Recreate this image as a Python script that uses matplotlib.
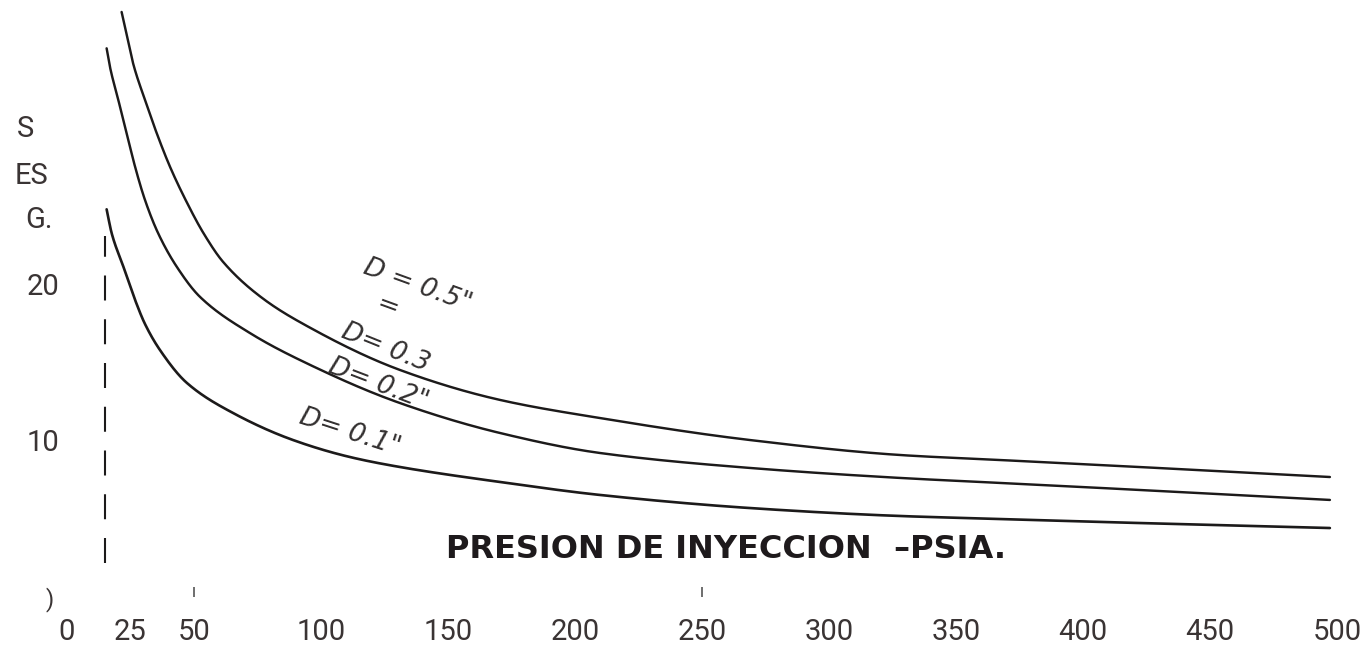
import matplotlib
matplotlib.use("Agg")
import matplotlib.pyplot as plt
import numpy as np

# ---- data ----
x_ticks = [0, 25, 50, 100, 150, 200, 250, 300, 350, 400, 450, 500]
x_tick_labels = ["0", "25", "50", "100", "150", "200", "250", "300", "350", "400", "450", "500"]

# D = 0.5" / 0.3  (upper curve)
p_05 = [21.5, 23.6, 26.1, 30.7, 35.3, 40.6, 47.1, 53.7, 61.5, 76.8, 91.7, 131.1, 170.5, 209.8, 268.9, 328.0, 367.3, 406.7, 497.2]
t_05 = [37.63, 36.09, 34.29, 31.99, 29.87, 27.69, 25.45, 23.46, 21.60, 19.30, 17.75, 14.68, 12.76, 11.60, 10.19, 9.23, 8.91, 8.59, 7.82]

# D = 0.2"  (middle curve)
p_02 = [15.6, 16.9, 20.2, 23.5, 26.8, 30.7, 35.9, 43.2, 52.4, 72.0, 91.7, 131.1, 170.5, 209.8, 268.9, 328.0, 367.3, 406.7, 497.2]
t_02 = [35.30, 34.12, 31.99, 29.85, 27.71, 25.58, 23.44, 21.30, 19.36, 17.05, 15.32, 12.56, 10.64, 9.36, 8.40, 7.76, 7.44, 7.12, 6.35]

# D = 0.1"  (lower curve)
p_01 = [15.6, 17.6, 22.2, 26.8, 30.7, 36.6, 47.2, 65.4, 89.0, 111.4, 131.1, 170.5, 209.8, 268.9, 328.0, 367.3, 406.7, 497.2]
t_01 = [24.98, 23.44, 21.30, 19.17, 17.63, 15.96, 13.85, 11.92, 10.19, 9.10, 8.46, 7.50, 6.67, 5.83, 5.32, 5.13, 4.94, 4.55]

atm_pressure = 15.0
atm_line_top = 23.3
atm_line_bottom = 2.3

y_tick_values = [20, 10]
y_tick_labels = ["20", "10"]

curve_labels = ['D = 0.5"', '=', 'D= 0.3', 'D= 0.2"', 'D= 0.1"']
curve_label_x = [138.0, 126.0, 125.5, 122.5, 111.5]
curve_label_y = [20.1, 18.7, 16.1, 13.75, 10.7]
curve_label_rot = [-20, -20, -22, -21, -18]

ylabel_parts = ["S", "ES", "G."]
ylabel_x = [-16.5, -13.8, -11.0]
ylabel_y = [30.1, 27.1, 24.3]

xlabel_text = "PRESION DE INYECCION  \u2013PSIA."


def pchip_line(x, y):
    """Monotone cubic Hermite curve through the given points (for a smooth pen line)."""
    x = np.asarray(x, float)
    y = np.asarray(y, float)
    h = np.diff(x)
    d = np.diff(y) / h
    m = np.zeros_like(x)
    for k in range(1, len(x) - 1):
        if d[k - 1] * d[k] <= 0:
            m[k] = 0.0
        else:
            w1 = 2 * h[k] + h[k - 1]
            w2 = h[k] + 2 * h[k - 1]
            m[k] = (w1 + w2) / (w1 / d[k - 1] + w2 / d[k])
    m[0] = d[0]
    m[-1] = d[-1]
    xs, ys = [], []
    for k in range(len(x) - 1):
        t = np.linspace(0, 1, 40, endpoint=False)
        h00 = 2 * t**3 - 3 * t**2 + 1
        h10 = t**3 - 2 * t**2 + t
        h01 = -2 * t**3 + 3 * t**2
        h11 = t**3 - t**2
        xs.append(x[k] + t * h[k])
        ys.append(h00 * y[k] + h10 * h[k] * m[k] + h01 * y[k + 1] + h11 * h[k] * m[k + 1])
    xs.append([x[-1]])
    ys.append([y[-1]])
    return np.concatenate(xs), np.concatenate(ys)


# ---- figure ----
W, H = 1366, 650
fig = plt.figure(figsize=(W / 100, H / 100), dpi=100)
fig.patch.set_facecolor("white")
bottom_px = 612
ax = fig.add_axes([0, (H - bottom_px) / H, 1, bottom_px / H])
ax.set_facecolor("white")

px_per_unit_x = 2.54
x0_px = 67
ax.set_xlim(-x0_px / px_per_unit_x, (W - x0_px) / px_per_unit_x)
py_per_unit = 15.6
y0_px = 599
ax.set_ylim((y0_px - bottom_px) / py_per_unit, y0_px / py_per_unit)

for s in ax.spines.values():
    s.set_visible(False)

line_color = "#1c1a1a"
text_color = "#3a3434"
num_font = ["Roboto", "DejaVu Sans"]

for px_, ty_, lw in [(p_05, t_05, 1.75), (p_02, t_02, 1.75), (p_01, t_01, 1.9)]:
    sx, sy = pchip_line(px_, ty_)
    ax.plot(sx, sy, color=line_color, lw=lw, solid_capstyle="round")

dl, = ax.plot([atm_pressure, atm_pressure], [atm_line_bottom, atm_line_top],
              color=line_color, lw=1.5)
dl.set_dashes([12, 9])

# small stray tick marks on the x axis line
ax.plot([50, 250], [0.45, 0.45], linestyle="none", marker="|", markersize=7,
        color="#555555", markeredgewidth=1.2)

ax.set_xticks(x_ticks)
ax.set_xticklabels(x_tick_labels, family=num_font, fontsize=21, color=text_color)
ax.tick_params(axis="x", length=0, pad=4)
ax.set_yticks([])

for v, lab in zip(y_tick_values, y_tick_labels):
    ax.text(-9.5, v, lab, family=num_font, fontsize=21, color=text_color,
            ha="center", va="center")
ax.text(-6.7, -0.05, ")", family=num_font, fontsize=17, color=text_color,
        ha="center", va="center")

for lab, lx, ly in zip(ylabel_parts, ylabel_x, ylabel_y):
    ax.text(lx, ly, lab, family=num_font, fontsize=21, color=text_color,
            ha="center", va="center")

for lab, lx, ly, rot in zip(curve_labels, curve_label_x, curve_label_y, curve_label_rot):
    ax.text(lx, ly, lab, fontsize=19, style="italic", color="#333030",
            ha="center", va="center", rotation=rot, rotation_mode="anchor",
            family=["DejaVu Sans"])

ax.text(259.5, 3.2, xlabel_text, fontsize=23, fontweight="bold", color="#1e1a1c",
        ha="center", va="center", family=["DejaVu Sans"])

fig.savefig("out.png", dpi=100, facecolor="white")
